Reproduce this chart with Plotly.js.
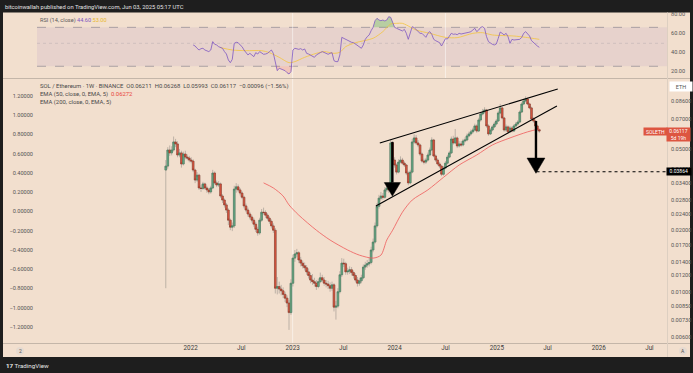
<!DOCTYPE html>
<html><head><meta charset="utf-8">
<script src="https://cdn.plot.ly/plotly-3.0.1.min.js"></script>
<style>html,body{margin:0;padding:0;background:#1e1e1e;}#chart{width:693px;height:373px;}</style>
</head><body><div id="chart"></div>
<script>
// ---------- DATA ----------
const firstWeekStart = [2021, 9, 4]; // Monday 2021-10-04, weekly bars
const openPrice = [0.0394,0.0412,0.0494,0.0478,0.0494,0.0541,0.0529,0.0467,0.0478,0.0422,
0.0472,0.0456,0.0451,0.0441,0.0436,0.0394,0.0352,0.0372,0.0322,0.0320,
0.0337,0.0322,0.0315,0.0308,0.0322,0.0381,0.0341,0.0333,0.0337,0.0294,
0.0281,0.0266,0.0251,0.0224,0.0207,0.0210,0.0318,0.0326,0.0315,0.0304,
0.0290,0.0263,0.0251,0.0240,0.0232,0.0224,0.0214,0.0202,0.0194,0.0224,
0.0245,0.0244,0.0237,0.0229,0.0221,0.0210,0.0200,0.0104,0.0106,0.0103,
0.0101,0.0097,0.0093,0.0088,0.0079,0.0110,0.0146,0.0153,0.0155,0.0143,
0.0138,0.0134,0.0131,0.0125,0.0120,0.0114,0.0112,0.0110,0.0106,0.0112,
0.0117,0.0114,0.0110,0.0109,0.0107,0.0104,0.0108,0.0084,0.0085,0.0100,
0.0121,0.0138,0.0137,0.0125,0.0126,0.0128,0.0124,0.0120,0.0114,0.0110,
0.0113,0.0117,0.0132,0.0135,0.0137,0.0139,0.0160,0.0175,0.0210,0.0262,
0.0287,0.0294,0.0290,0.0315,0.0322,0.0315,0.0535,0.0441,0.0417,0.0385,
0.0431,0.0441,0.0426,0.0417,0.0381,0.0341,0.0385,0.0541,0.0566,0.0535,
0.0523,0.0472,0.0436,0.0431,0.0441,0.0467,0.0494,0.0553,0.0462,0.0441,
0.0422,0.0412,0.0376,0.0403,0.0426,0.0456,0.0478,0.0559,0.0535,0.0566,
0.0517,0.0529,0.0523,0.0547,0.0553,0.0579,0.0592,0.0606,0.0619,0.0648,
0.0612,0.0693,0.0741,0.0758,0.0776,0.0648,0.0592,0.0619,0.0641,0.0662,
0.0685,0.0750,0.0794,0.0709,0.0619,0.0641,0.0606,0.0633,0.0612,0.0648,
0.0662,0.0677,0.0758,0.0830,0.0858,0.0878,0.0830,0.0794,0.0701,0.0685,
0.0648,0.06211];
const highPrice = [0.0441,0.0510,0.0520,0.0515,0.0575,0.0560,0.0545,0.0500,0.0490,0.0485,
0.0490,0.0470,0.0462,0.0455,0.0445,0.0400,0.0385,0.0378,0.0332,0.0345,
0.0342,0.0330,0.0322,0.0330,0.0395,0.0388,0.0350,0.0348,0.0342,0.0300,
0.0286,0.0272,0.0256,0.0228,0.0218,0.0330,0.0340,0.0335,0.0322,0.0310,
0.0295,0.0270,0.0258,0.0246,0.0238,0.0230,0.0220,0.0208,0.0230,0.0254,
0.0258,0.0250,0.0242,0.0234,0.0226,0.0216,0.0205,0.0118,0.0112,0.0108,
0.0105,0.0100,0.0096,0.0091,0.0115,0.0152,0.0160,0.0162,0.0158,0.0148,
0.0142,0.0139,0.0135,0.0130,0.0124,0.0122,0.0117,0.0114,0.0116,0.0124,
0.0121,0.0118,0.0114,0.0113,0.0111,0.0112,0.0110,0.0090,0.0104,0.0126,
0.0146,0.0145,0.0140,0.0131,0.0133,0.0132,0.0127,0.0123,0.0118,0.0117,
0.0121,0.0136,0.0140,0.0143,0.0146,0.0166,0.0182,0.0218,0.0272,0.0298,
0.0308,0.0304,0.0325,0.0335,0.0332,0.0555,0.0548,0.0455,0.0425,0.0445,
0.0460,0.0452,0.0435,0.0422,0.0388,0.0395,0.0560,0.0590,0.0585,0.0552,
0.0530,0.0480,0.0448,0.0452,0.0480,0.0508,0.0570,0.0560,0.0470,0.0450,
0.0432,0.0418,0.0412,0.0436,0.0468,0.0490,0.0575,0.0580,0.0626,0.0575,
0.0545,0.0545,0.0560,0.0570,0.0595,0.0608,0.0622,0.0635,0.0665,0.0660,
0.0710,0.0760,0.0785,0.0800,0.0785,0.0660,0.0632,0.0655,0.0678,0.0700,
0.0768,0.0830,0.0805,0.0718,0.0658,0.0652,0.0648,0.0645,0.0660,0.0678,
0.0692,0.0772,0.0848,0.0880,0.0905,0.0890,0.0842,0.0805,0.0715,0.0695,
0.0658,0.06268];
const lowPrice = [0.0104,0.0400,0.0462,0.0465,0.0485,0.0510,0.0455,0.0455,0.0405,0.0415,
0.0445,0.0440,0.0430,0.0425,0.0385,0.0340,0.0345,0.0315,0.0308,0.0315,
0.0316,0.0305,0.0300,0.0302,0.0318,0.0335,0.0325,0.0326,0.0288,0.0272,
0.0258,0.0243,0.0212,0.0200,0.0198,0.0205,0.0305,0.0308,0.0296,0.0284,
0.0256,0.0245,0.0233,0.0226,0.0218,0.0208,0.0196,0.0188,0.0190,0.0220,
0.0238,0.0230,0.0223,0.0215,0.0204,0.0194,0.0098,0.0097,0.0098,0.0096,
0.0093,0.0089,0.0084,0.0065,0.0077,0.0106,0.0140,0.0148,0.0138,0.0133,
0.0130,0.0127,0.0121,0.0116,0.0110,0.0108,0.0106,0.0102,0.0104,0.0110,
0.0111,0.0107,0.0105,0.0103,0.0100,0.0101,0.0080,0.0073,0.0083,0.0098,
0.0118,0.0132,0.0121,0.0121,0.0122,0.0120,0.0116,0.0111,0.0106,0.0107,
0.0110,0.0115,0.0128,0.0131,0.0133,0.0136,0.0156,0.0172,0.0206,0.0255,
0.0280,0.0282,0.0285,0.0308,0.0305,0.0310,0.0430,0.0405,0.0375,0.0380,
0.0425,0.0418,0.0408,0.0372,0.0332,0.0336,0.0380,0.0530,0.0525,0.0510,
0.0462,0.0428,0.0420,0.0422,0.0435,0.0460,0.0488,0.0455,0.0432,0.0415,
0.0402,0.0368,0.0370,0.0398,0.0420,0.0450,0.0472,0.0525,0.0528,0.0505,
0.0508,0.0512,0.0515,0.0538,0.0545,0.0570,0.0582,0.0595,0.0610,0.0600,
0.0605,0.0680,0.0730,0.0745,0.0635,0.0580,0.0585,0.0610,0.0632,0.0652,
0.0678,0.0740,0.0698,0.0608,0.0608,0.0595,0.0598,0.0602,0.0605,0.0640,
0.0652,0.0670,0.0750,0.0820,0.0845,0.0818,0.0782,0.0690,0.0672,0.0638,
0.0610,0.05993];
const closePrice = [0.0412,0.0494,0.0478,0.0494,0.0541,0.0529,0.0467,0.0478,0.0422,0.0472,
0.0456,0.0451,0.0441,0.0436,0.0394,0.0352,0.0372,0.0322,0.0320,0.0337,
0.0322,0.0315,0.0308,0.0322,0.0381,0.0341,0.0333,0.0337,0.0294,0.0281,
0.0266,0.0251,0.0224,0.0207,0.0210,0.0318,0.0326,0.0315,0.0304,0.0290,
0.0263,0.0251,0.0240,0.0232,0.0224,0.0214,0.0202,0.0194,0.0224,0.0245,
0.0244,0.0237,0.0229,0.0221,0.0210,0.0200,0.0104,0.0106,0.0103,0.0101,
0.0097,0.0093,0.0088,0.0079,0.0110,0.0146,0.0153,0.0155,0.0143,0.0138,
0.0134,0.0131,0.0125,0.0120,0.0114,0.0112,0.0110,0.0106,0.0112,0.0117,
0.0114,0.0110,0.0109,0.0107,0.0104,0.0108,0.0084,0.0085,0.0100,0.0121,
0.0138,0.0137,0.0125,0.0126,0.0128,0.0124,0.0120,0.0114,0.0110,0.0113,
0.0117,0.0132,0.0135,0.0137,0.0139,0.0160,0.0175,0.0210,0.0262,0.0287,
0.0294,0.0290,0.0315,0.0322,0.0315,0.0535,0.0441,0.0417,0.0385,0.0431,
0.0441,0.0426,0.0417,0.0381,0.0341,0.0385,0.0541,0.0566,0.0535,0.0523,
0.0472,0.0436,0.0431,0.0441,0.0467,0.0494,0.0553,0.0462,0.0441,0.0422,
0.0412,0.0376,0.0403,0.0426,0.0456,0.0478,0.0559,0.0535,0.0566,0.0517,
0.0529,0.0523,0.0547,0.0553,0.0579,0.0592,0.0606,0.0619,0.0648,0.0612,
0.0693,0.0741,0.0758,0.0776,0.0648,0.0592,0.0619,0.0641,0.0662,0.0685,
0.0750,0.0794,0.0709,0.0619,0.0641,0.0606,0.0633,0.0612,0.0648,0.0662,
0.0677,0.0758,0.0830,0.0858,0.0878,0.0830,0.0794,0.0701,0.0685,0.0648,
0.06211,0.06117];

// EMA(50) read at selected weeks (week index -> value)
const ema50Week = [50,55,60,63,68,77,84,93,99,106,110,113,116,121,126,134,142,150,159,167,176,185,191];
const ema50Values = [0.0341,0.0322,0.0294,0.0266,0.0237,0.0200,0.0179,0.0160,0.0151,0.0146,0.0151,0.0179,0.0200,0.0245,0.0281,0.0315,0.0363,0.0417,0.0467,0.0523,0.0566,0.0606,0.06272];

// RSI(14), from week 14 onwards
const rsiFirstWeek = 14;
const rsiValues = [47.1,46.0,43.6,41.8,43.2,43.6,41.8,41.1,40.1,41.8,
50.6,47.8,47.1,45.3,44.6,43.6,40.1,37.6,31.3,28.5,
32.0,48.8,49.9,49.5,47.1,45.3,41.8,39.0,36.6,38.3,
36.6,34.8,39.0,37.6,40.1,38.3,37.3,37.6,38.3,40.1,
41.8,38.3,29.6,20.1,22.6,21.5,20.8,20.1,18.0,16.6,
19.1,41.8,43.6,42.9,42.5,43.2,41.8,42.9,38.3,37.6,
36.6,34.8,34.1,36.6,38.3,39.0,40.1,39.0,37.6,37.3,
38.3,39.0,30.6,29.6,29.6,36.6,55.1,54.1,52.3,51.3,
50.6,49.9,49.5,48.1,46.4,45.3,43.6,47.1,53.0,55.8,
57.6,62.1,65.6,72.6,75.1,73.3,72.6,73.3,72.3,73.3,
76.8,76.1,69.8,65.6,64.6,63.5,62.8,61.8,63.5,59.3,
53.0,59.3,66.3,65.3,63.5,61.1,59.3,59.3,57.6,55.1,
59.3,61.1,58.3,53.0,51.6,50.6,49.5,46.0,50.6,53.7,
53.4,56.5,59.3,58.3,58.6,57.9,59.3,58.6,59.3,59.3,
60.0,60.4,61.1,62.8,64.6,61.1,62.8,65.6,66.3,64.6,
55.8,50.6,48.8,47.8,47.1,48.1,54.1,60.7,59.3,57.6,
59.3,55.8,48.8,53.0,52.3,52.3,52.3,53.0,55.1,59.3,
61.1,59.3,56.5,51.6,49.5,48.1,46.0,44.6];
// RSI-based moving average read at selected weeks
const rsiMaWeek = [28,34,41,49,53,58,63,66,71,77,81,86,89,92,97,106,111,115,118,121,123,128,135,143,149,157,162,167,178,184,191];
const rsiMaValues = [44.3,41.8,41.1,41.1,39.0,34.1,28.5,29.6,34.1,38.3,40.1,38.3,39.4,45.3,49.5,54.1,61.1,69.1,69.8,69.8,68.1,62.8,59.3,55.1,54.8,59.3,60.0,57.6,56.5,55.1,53.0];
const rsiUpperBand = 65.6, rsiLowerBand = 24.7, rsiMiddleBand = 48.8;

// Axis ticks (0.06000 is hidden behind the last-price tag in the reference)
const priceTickVals = [0.086,0.07,0.05,0.04,0.034,0.028,0.024,0.02,0.017,0.014,0.012,0.01,0.0085,0.0073,0.006];
const priceTickText = ['0.08600','0.07000','0.05000','0.04000','0.03400','0.02800','0.02400','0.02000','0.01700','0.01400','0.01200','0.01000','0.00850','0.00730','0.00600'];
const priceGridVals = [0.086,0.07,0.06,0.034,0.014,0.012,0.006];
const leftTickVals = [1.2,1.0,0.8,0.6,0.4,0.2,0,-0.2,-0.4,-0.6,-0.8,-1.0,-1.2];
const leftTickText = ['1.20000','1.00000','0.80000','0.60000','0.40000','0.20000','0.00000','\u22120.20000','\u22120.40000','\u22120.60000','\u22120.80000','\u22121.00000','\u22121.20000'];
const timeTickDates = ['2022-01-01','2022-07-01','2023-01-01','2023-07-01','2024-01-01','2024-07-01','2025-01-01','2025-07-01','2026-01-01','2026-07-01'];
const timeTickText = ['2022','Jul','2023','Jul','2024','Jul','2025','Jul','2026','Jul'];
const rsiTickVals = [20,40,60,80];
const rsiTickText = ['20.00','40.00','60.00','80.00'];
const fullGridDate = '2023-01-01';
const rsiGridDate = '2024-07-01';
const targetPrice = 0.03864;

// Chart drawings (trend lines and arrows, as drawn by the author)
const drawings = {
  upperLine: {x:['2023-11-09','2025-08-07'], y:[0.0535,0.0983]},
  lowerLine: {x:['2023-10-26','2025-08-04'], y:[0.0263,0.0812]},
  leftShaft: {x:['2023-12-24','2023-12-24'], y:[0.0541,0.0342]},
  leftHead:  {x:['2023-11-25','2024-01-22','2023-12-24','2023-11-25'], y:[0.0342,0.0342,0.0294,0.0342]},
  rightShaft:{x:['2025-05-21','2025-05-21'], y:[0.0685,0.0451]},
  rightHead: {x:['2025-04-19','2025-06-22','2025-05-21','2025-04-19'], y:[0.0451,0.0451,0.0380,0.0451]},
  target:    {x:['2025-05-23','2026-09-02']}
};

// ---------- BUILD ----------
const W = 693, H = 373;
const px = x => x / W;
const py = y => 1 - y / H;
const FONT = 'Roboto, "Open Sans", Arial, sans-serif';
const xRange = ['2020-06-30','2026-09-02'];

const weekDates = closePrice.map((_, i) => new Date(Date.UTC(firstWeekStart[0], firstWeekStart[1], firstWeekStart[2] + 7 * i)).toISOString().slice(0, 10));
const bodyHigh = openPrice.map((o, i) => Math.max(o, closePrice[i]));
const bodyLow = openPrice.map((o, i) => Math.min(o, closePrice[i]));
const rsiDates = weekDates.slice(rsiFirstWeek);
const lastClose = closePrice[closePrice.length - 1];

const WICK = '#a69d95';
const traces = [
  {type:'candlestick', x:weekDates, open:openPrice, high:highPrice, low:lowPrice, close:closePrice,
   xaxis:'x', yaxis:'y', whiskerwidth:0, hoverinfo:'skip', showlegend:false,
   increasing:{line:{color:WICK, width:0.7}, fillcolor:WICK},
   decreasing:{line:{color:WICK, width:0.7}, fillcolor:WICK}},
  {type:'candlestick', x:weekDates, open:openPrice, high:bodyHigh, low:bodyLow, close:closePrice,
   xaxis:'x', yaxis:'y', whiskerwidth:0, hoverinfo:'skip', showlegend:false,
   increasing:{line:{color:'#3f7659', width:0.5}, fillcolor:'#68a885'},
   decreasing:{line:{color:'#8a3222', width:0.5}, fillcolor:'#dc5842'}},
  {type:'scatter', mode:'lines', x:ema50Week.map(i => weekDates[i]), y:ema50Values, xaxis:'x', yaxis:'y',
   line:{color:'#ef5a5a', width:0.8, shape:'spline', smoothing:0.8}, hoverinfo:'skip', showlegend:false},
  {type:'scatter', x:[], y:[], xaxis:'x', yaxis:'y2', hoverinfo:'skip', showlegend:false},
];
const blk = (d, w, extra) => Object.assign({type:'scatter', mode:'lines', x:d.x, y:d.y, xaxis:'x', yaxis:'y',
  line:{color:'#000', width:w}, hoverinfo:'skip', showlegend:false}, extra || {});
traces.push(blk(drawings.upperLine, 1.1));
traces.push(blk(drawings.lowerLine, 1.1));
traces.push(blk(drawings.leftShaft, 2.4));
traces.push(blk(drawings.leftHead, 0.5, {fill:'toself', fillcolor:'#000'}));
traces.push(blk(drawings.rightShaft, 2.4));
traces.push(blk(drawings.rightHead, 0.5, {fill:'toself', fillcolor:'#000'}));
traces.push({type:'scatter', mode:'lines', x:drawings.target.x, y:[targetPrice, targetPrice], xaxis:'x', yaxis:'y',
  line:{color:'#000', width:1.1, dash:'dot'}, hoverinfo:'skip', showlegend:false});

// RSI pane
traces.push({type:'scatter', mode:'lines', x:rsiDates, y:rsiDates.map(() => rsiUpperBand), xaxis:'x2', yaxis:'y3',
  line:{width:0, color:'rgba(0,0,0,0)'}, hoverinfo:'skip', showlegend:false});
traces.push({type:'scatter', mode:'lines', x:rsiDates, y:rsiValues.map(v => Math.max(v, rsiUpperBand)), xaxis:'x2', yaxis:'y3',
  fill:'tonexty', fillcolor:'rgba(76,175,80,0.35)', line:{width:0, color:'rgba(0,0,0,0)'}, hoverinfo:'skip', showlegend:false});
traces.push({type:'scatter', mode:'lines', x:rsiDates, y:rsiDates.map(() => rsiLowerBand), xaxis:'x2', yaxis:'y3',
  line:{width:0, color:'rgba(0,0,0,0)'}, hoverinfo:'skip', showlegend:false});
traces.push({type:'scatter', mode:'lines', x:rsiDates, y:rsiValues.map(v => Math.min(v, rsiLowerBand)), xaxis:'x2', yaxis:'y3',
  fill:'tonexty', fillcolor:'rgba(242,54,69,0.15)', line:{width:0, color:'rgba(0,0,0,0)'}, hoverinfo:'skip', showlegend:false});
traces.push({type:'scatter', mode:'lines', x:rsiMaWeek.map(i => weekDates[i]), y:rsiMaValues, xaxis:'x2', yaxis:'y3',
  line:{color:'#f2c43d', width:0.8, shape:'spline', smoothing:0.8}, hoverinfo:'skip', showlegend:false});
traces.push({type:'scatter', mode:'lines', x:rsiDates, y:rsiValues, xaxis:'x2', yaxis:'y3',
  line:{color:'#7e57c2', width:0.8}, hoverinfo:'skip', showlegend:false});

const SEP = '#c4b6a9';
const shapes = [
  {type:'rect', xref:'paper', yref:'paper', x0:px(3), x1:px(690), y0:py(357), y1:py(12.5), fillcolor:'#f2dfce', line:{width:0}, layer:'below'},
  {type:'rect', xref:'paper', yref:'y3', x0:px(37), x1:px(667), y0:rsiLowerBand, y1:rsiUpperBand, fillcolor:'rgba(126,87,194,0.09)', line:{width:0}, layer:'below'},
  {type:'line', xref:'paper', yref:'y3', x0:px(37), x1:px(667), y0:rsiUpperBand, y1:rsiUpperBand, line:{color:'#8d8790', width:0.7, dash:'dash'}, layer:'below'},
  {type:'line', xref:'paper', yref:'y3', x0:px(37), x1:px(667), y0:rsiLowerBand, y1:rsiLowerBand, line:{color:'#8d8790', width:0.7, dash:'dash'}, layer:'below'},
  {type:'line', xref:'paper', yref:'y3', x0:px(37), x1:px(667), y0:rsiMiddleBand, y1:rsiMiddleBand, line:{color:'rgba(140,135,144,0.35)', width:0.7, dash:'dot'}, layer:'below'},
  {type:'line', xref:'paper', yref:'paper', x0:px(3), x1:px(690), y0:py(78.5), y1:py(78.5), line:{color:SEP, width:1}},
  {type:'line', xref:'paper', yref:'paper', x0:px(3), x1:px(690), y0:py(343.5), y1:py(343.5), line:{color:SEP, width:1}},
  {type:'line', xref:'paper', yref:'paper', x0:px(667.5), x1:px(667.5), y0:py(357), y1:py(12.5), line:{color:'#ddcfc1', width:1}},
  {type:'line', xref:'x', yref:'paper', x0:fullGridDate, x1:fullGridDate, y0:py(343), y1:py(13), line:{color:'rgba(255,255,255,0.5)', width:1}, layer:'below'},
  {type:'line', xref:'x', yref:'paper', x0:rsiGridDate, x1:rsiGridDate, y0:py(78), y1:py(13), line:{color:'rgba(255,255,255,0.5)', width:1}, layer:'below'},
];
priceGridVals.forEach(v => shapes.push({type:'line', xref:'paper', yref:'y', x0:px(37), x1:px(667), y0:Math.log10(v), y1:Math.log10(v),
  line:{color:'rgba(255,255,255,0.5)', width:1}, layer:'below'}));
// small circular buttons on the time axis
shapes.push({type:'circle', xref:'paper', yref:'paper', x0:px(16), x1:px(24), y0:py(355), y1:py(347), fillcolor:'#e6dad0', line:{width:0}});
shapes.push({type:'circle', xref:'paper', yref:'paper', x0:px(679), x1:px(687), y0:py(355), y1:py(347), fillcolor:'#e6dad0', line:{width:0}});

const A = (text, x, y, o) => Object.assign({text, xref:'paper', yref:'paper', x:px(x), y:py(y), showarrow:false,
  xanchor:'left', yanchor:'middle', font:{family:FONT, size:6, color:'#4a4a4a'}}, o || {});
const annotations = [
  A('bitcoinwallah published on TradingView.com, Jun 03, 2025 05:17 UTC', 3, 7, {font:{family:FONT, size:5.8, color:'#e2e2e2'}}),
  A('RSI (14, close) <span style="color:#7e57c2">44.60</span> <span style="color:#e9b92e">53.00</span>', 38, 20, {font:{family:FONT, size:5.6, color:'#5a5a5a'}}),
  A('SOL / Ethereum \u00b7 1W \u00b7 BINANCE  O0.06211  H0.06268  L0.05993  C0.06117  \u22120.00096 (\u22121.56%)', 38, 86.7, {font:{family:FONT, size:5.9, color:'#4a4a4a'}}),
  A('EMA (50, close, 0, EMA, 5)  <span style="color:#e8463c">0.06272</span>', 38, 94.7, {font:{family:FONT, size:5.9, color:'#4a4a4a'}}),
  A('EMA (200, close, 0, EMA, 5)', 38, 102.7, {font:{family:FONT, size:5.9, color:'#4a4a4a'}}),
  A('<b>17</b> TradingView', 4, 366, {font:{family:FONT, size:6.2, color:'#e8e8e8'}}),
  A('2', 20, 351, {xanchor:'center', font:{family:FONT, size:5, color:'#555'}}),
  A('A', 683, 351, {xanchor:'center', font:{family:FONT, size:5, color:'#555'}}),
  A('ETH', 680.5, 86.5, {xanchor:'center', bgcolor:'#ffffff', width:20, height:7, borderpad:1, font:{family:FONT, size:5.5, color:'#555'}}),
  {text:'SOLETH', xref:'paper', yref:'y', x:px(655), y:Math.log10(lastClose), showarrow:false, xanchor:'center', yanchor:'middle',
   bgcolor:'#dd5540', width:21, height:5, borderpad:1, font:{family:FONT, size:5, color:'#ffffff'}},
  {text:'0.06117<br>5d 19h', xref:'paper', yref:'y', x:px(678.5), y:Math.log10(lastClose), yshift:-3.5, showarrow:false, xanchor:'center', yanchor:'middle',
   bgcolor:'#dd5540', width:22, height:12, borderpad:0.5, font:{family:FONT, size:5, color:'#ffffff'}},
  {text:'0.03864', xref:'paper', yref:'y', x:px(678.5), y:Math.log10(targetPrice), showarrow:false, xanchor:'center', yanchor:'middle',
   bgcolor:'#000000', width:22, height:5, borderpad:0.8, font:{family:FONT, size:5, color:'#ffffff'}},
];

const common = {showgrid:false, zeroline:false, showline:false, ticks:''};
const layout = {
  width:W, height:H, margin:{l:0, r:0, t:0, b:0},
  paper_bgcolor:'#1e1e1e', plot_bgcolor:'rgba(0,0,0,0)', showlegend:false, hovermode:false,
  boxgap:0.15, boxgroupgap:0,
  font:{family:FONT, size:6, color:'#555'},
  xaxis:Object.assign({}, common, {type:'date', domain:[px(37), px(667)], range:xRange, anchor:'y',
    tickvals:timeTickDates, ticktext:timeTickText, tickfont:{family:FONT, size:6.3, color:'#3d3d3d'}, rangeslider:{visible:false}}),
  xaxis2:Object.assign({}, common, {type:'date', domain:[px(37), px(667)], range:xRange, anchor:'y3', matches:'x',
    showticklabels:false, rangeslider:{visible:false}}),
  yaxis:Object.assign({}, common, {type:'log', domain:[py(343), py(79)], range:[-2.25123, -0.95865], side:'right', anchor:'x',
    tickvals:priceTickVals, ticktext:priceTickText, tickfont:{family:FONT, size:5.6, color:'#555'}, ticklabelstandoff:3}),
  yaxis2:Object.assign({}, common, {overlaying:'y', side:'left', anchor:'x', range:[-1.3662, 1.3766],
    tickvals:leftTickVals, ticktext:leftTickText, tickfont:{family:FONT, size:5.6, color:'#555'}, ticklabelstandoff:3}),
  yaxis3:Object.assign({}, common, {domain:[py(78), py(13)], anchor:'x2', side:'right', range:[12.39, 80.67],
    tickvals:rsiTickVals, ticktext:rsiTickText, tickfont:{family:FONT, size:5.6, color:'#555'}, ticklabelstandoff:3}),
  shapes, annotations
};
Plotly.newPlot('chart', traces, layout, {staticPlot:true, displayModeBar:false});
</script></body></html>
